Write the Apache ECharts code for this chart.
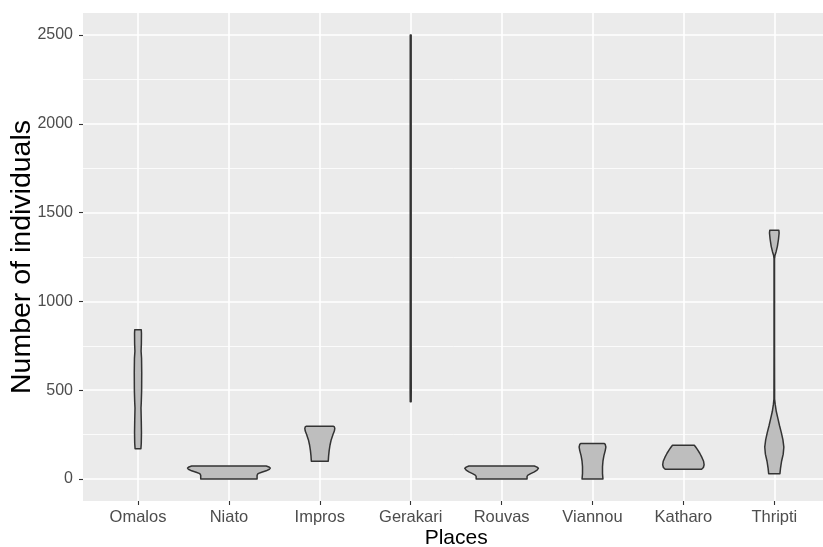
<!DOCTYPE html>
<html>
<head>
<meta charset="utf-8">
<script src="https://cdn.jsdelivr.net/npm/echarts@6/dist/echarts.min.js"></script>
<style>
html, body { margin: 0; padding: 0; background: #ffffff; }
#chart { width: 823px; height: 547px; }
</style>
</head>
<body>
<div id="chart"></div>
<script>
// Places on the x axis
const places = ['Omalos', 'Niato', 'Impros', 'Gerakari', 'Rouvas', 'Viannou', 'Katharo', 'Thripti'];
// y axis ticks
const yTicks = [0, 500, 1000, 1500, 2000, 2500];

// Violin outlines per place: [number of individuals, half width in category units]
const omalos = [[170, 0.032], [200, 0.036], [260, 0.038], [330, 0.036], [400, 0.033], [430, 0.036], [500, 0.040], [600, 0.041], [680, 0.039], [720, 0.034], [760, 0.037], [820, 0.038], [840, 0.036]];
const niato = [[0, 0.31], [20, 0.31], [30, 0.32], [38, 0.36], [46, 0.41], [55, 0.445], [62, 0.455], [68, 0.44], [73, 0.41]];
const impros = [[100, 0.093], [130, 0.097], [160, 0.103], [190, 0.112], [220, 0.125], [250, 0.145], [270, 0.16], [285, 0.165], [293, 0.16], [297, 0.15]];
const gerakari = [[435, 0.005], [500, 0.006], [800, 0.005], [1200, 0.005], [1600, 0.005], [2000, 0.005], [2500, 0.005]];
const rouvas = [[0, 0.28], [15, 0.28], [22, 0.29], [30, 0.32], [40, 0.36], [50, 0.39], [60, 0.405], [67, 0.39], [73, 0.36]];
const viannou = [[0, 0.115], [30, 0.11], [70, 0.11], [100, 0.115], [130, 0.125], [160, 0.14], [180, 0.147], [195, 0.14], [200, 0.13]];
const katharo = [[55, 0.20], [65, 0.22], [80, 0.228], [100, 0.222], [120, 0.205], [145, 0.18], [165, 0.155], [180, 0.135], [190, 0.12]];
const thripti = [[30, 0.062], [60, 0.068], [100, 0.08], [140, 0.098], [180, 0.105], [220, 0.095], [260, 0.078], [300, 0.058], [340, 0.040], [380, 0.022], [420, 0.010], [450, 0.004], [700, 0.003], [1000, 0.003], [1240, 0.003], [1260, 0.008], [1280, 0.02], [1310, 0.034], [1350, 0.046], [1385, 0.053], [1400, 0.05]];

const profiles = [omalos, niato, impros, gerakari, rouvas, viannou, katharo, thripti];

const FONT = '"Liberation Sans", Arial, Helvetica, sans-serif';

// Panel geometry (pixels)
const panelLeft = 83, panelTop = 13, panelWidth = 747, panelHeight = 488;
const firstCenter = 138, step = 90.9;
const yZeroPx = 479, yTopPx = 35;

const chart = echarts.init(document.getElementById('chart'), null, { renderer: 'canvas' });

const hiddenAxis = (gridIndex, min, max) => ({ type: 'value', gridIndex, min, max, show: false });
const fixedGrid = (left, top, width, height, extra) => Object.assign({
  left, top, width, height, show: false, containLabel: false, outerBoundsMode: 'none'
}, extra || {});

chart.setOption({
  animation: false,
  backgroundColor: '#ffffff',
  grid: [
    // 0: grey panel background
    fixedGrid(panelLeft, panelTop, panelWidth, panelHeight, { show: true, backgroundColor: '#EBEBEB', borderWidth: 0 }),
    // 1: horizontal gridlines + y axis
    fixedGrid(panelLeft, yTopPx, panelWidth, yZeroPx - yTopPx),
    // 2: vertical gridlines + x axis
    fixedGrid(firstCenter, panelTop, step * 7, panelHeight),
    // 3: violins
    fixedGrid(firstCenter, yTopPx, step * 7, yZeroPx - yTopPx)
  ],
  xAxis: [
    hiddenAxis(0, 0, 1),
    hiddenAxis(1, 0, 1),
    {
      type: 'value', gridIndex: 2, min: 0, max: places.length - 1, interval: 1,
      axisLine: { show: false, onZero: false },
      axisTick: { show: true, length: 4, lineStyle: { color: '#333333', width: 1.1 } },
      axisLabel: {
        margin: 8, fontSize: 16.5, fontFamily: FONT, color: '#4D4D4D',
        formatter: v => places[Math.round(v)] || ''
      },
      splitLine: { show: true, lineStyle: { color: '#FFFFFF', width: 1.6 } },
      name: 'Places', nameLocation: 'middle', nameGap: 27, nameMoveOverlap: false,
      nameTextStyle: { fontSize: 21, fontFamily: FONT, color: '#000000' }
    },
    hiddenAxis(3, 0, places.length - 1)
  ],
  yAxis: [
    hiddenAxis(0, 0, 1),
    {
      type: 'value', gridIndex: 1, min: yTicks[0], max: yTicks[yTicks.length - 1], interval: 500,
      axisLine: { show: false, onZero: false },
      axisTick: { show: true, length: 4, lineStyle: { color: '#333333', width: 1.1 } },
      axisLabel: { margin: 10, fontSize: 16, fontFamily: FONT, color: '#4D4D4D', formatter: v => String(v) },
      splitLine: { show: true, lineStyle: { color: '#FFFFFF', width: 1.6 } },
      minorTick: { show: false, splitNumber: 2 },
      minorSplitLine: { show: true, lineStyle: { color: '#FFFFFF', width: 0.8 } },
      name: 'Number of individuals', nameLocation: 'middle', nameGap: 46, nameRotate: 90, nameMoveOverlap: false,
      nameTextStyle: { fontSize: 28.5, fontFamily: FONT, color: '#000000' }
    },
    hiddenAxis(2, 0, 1),
    hiddenAxis(3, yTicks[0], yTicks[yTicks.length - 1])
  ],
  series: [{
    type: 'custom',
    xAxisIndex: 3,
    yAxisIndex: 3,
    clip: false,
    data: profiles.map((p, i) => [i, p[0][0], p[p.length - 1][0]]),
    encode: { x: 0, y: [1, 2] },
    renderItem: (params, api) => {
      const i = params.dataIndex;
      const prof = profiles[i];
      const pts = [];
      prof.forEach(([v, w]) => pts.push(api.coord([i + w, v])));
      for (let k = prof.length - 1; k >= 0; k--) {
        pts.push(api.coord([i - prof[k][1], prof[k][0]]));
      }
      return {
        type: 'polygon',
        shape: { points: pts },
        style: { fill: '#BEBEBE', stroke: '#333333', lineWidth: 1.5, lineJoin: 'round' }
      };
    }
  }]
});
</script>
</body>
</html>
